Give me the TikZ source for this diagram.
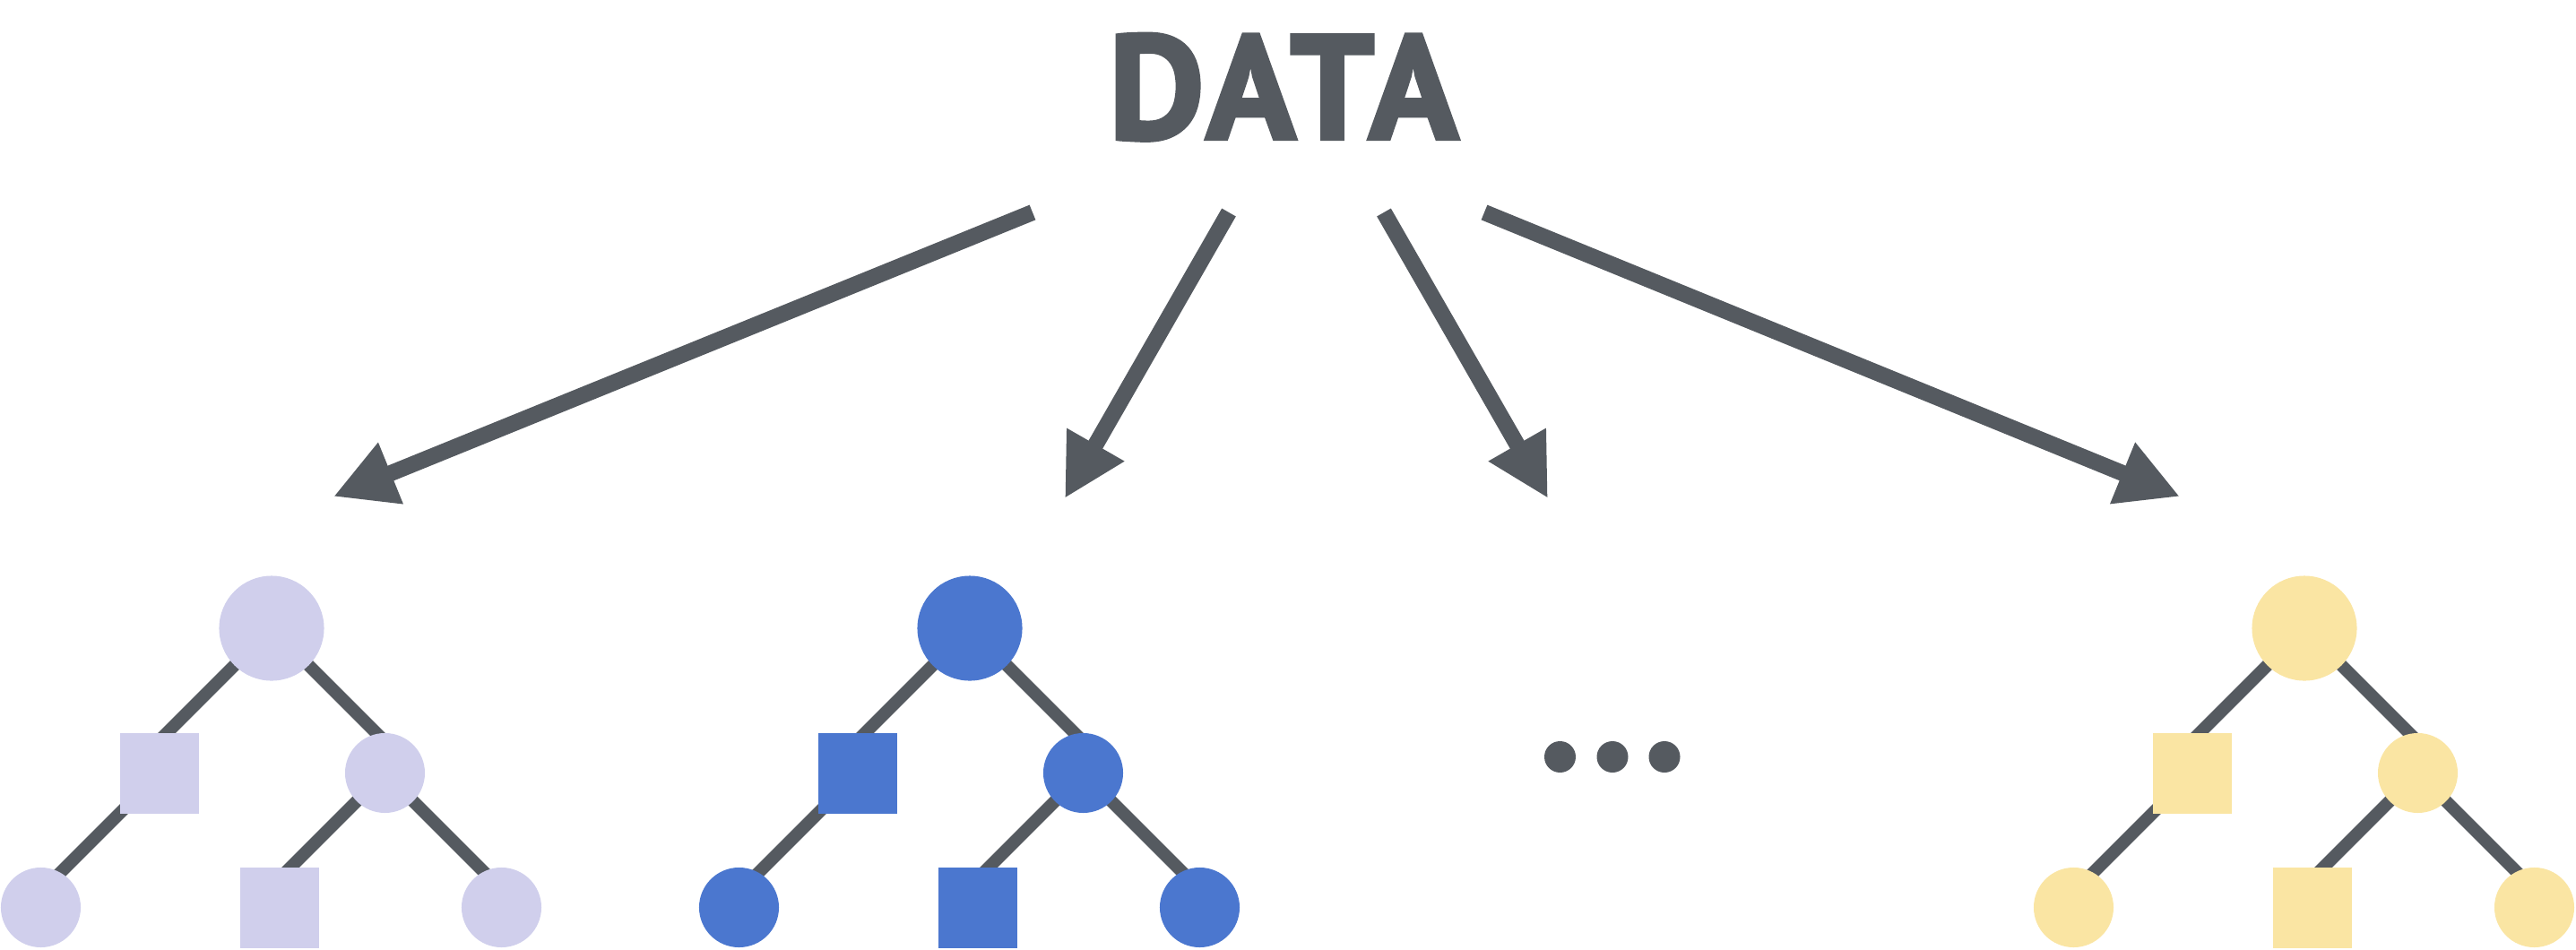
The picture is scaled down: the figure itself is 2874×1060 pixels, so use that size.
\documentclass[tikz,border=0pt]{standalone}
\usepackage{fontspec}
\newfontfamily\datafont{PT Sans}[BoldFeatures = {FakeBold = 2.5}, LetterSpace = 4]
\usetikzlibrary{arrows.meta,calc,backgrounds}

\definecolor{slate}{RGB}{85,90,96}
\definecolor{lilac}{RGB}{208,207,236}
\definecolor{azure}{RGB}{75,119,207}
\definecolor{butter}{RGB}{250,229,163}

\begin{document}
\begin{tikzpicture}[
  x = 0.01cm, y = -0.01cm,
  bignode/.style = {circle, inner sep = 0pt, minimum size = 1.17cm},
  smallnode/.style = {circle, inner sep = 0pt, minimum size = 0.89cm},
  boxnode/.style = {rectangle, inner sep = 0pt, minimum width = 0.88cm, minimum height = 0.9cm},
  treeline/.style = {draw = slate, line width = 0.14cm},
  bigarrow/.style = {draw = slate, line width = 0.18cm,
                     -{Triangle[length = 0.69cm, width = 0.69cm]}},
  moredot/.style = {circle, fill = slate, inner sep = 0pt, minimum size = 0.35cm}
  ]
  \useasboundingbox (0,0) rectangle (2874,1060);

  %title
  \node[font = \datafont\bfseries\fontsize{47}{47}\selectfont, text = slate,
        anchor = base, inner sep = 0pt] (data) at (1432,155) {DATA};

  %arrows
  \coordinate (src-a) at (1152,237);
  \coordinate (src-b) at (1371,237);
  \coordinate (src-c) at (1544,237);
  \coordinate (src-d) at (1656,237);
  \coordinate (tip-a) at (372,554);
  \coordinate (tip-b) at (1188,556);
  \coordinate (tip-c) at (1727,556);
  \coordinate (tip-d) at (2432,554);
  \foreach \s in {a,b,c,d}
    \draw[bigarrow] (src-\s) -- (tip-\s);

  %trees
  \foreach \t/\dx/\col in {a/0/lilac, b/779/azure, c/2268/butter} {
    \begin{scope}[shift = {(\dx,0)}, every node/.append style = {fill = \col}]
      \node[bignode]   (\t-root)  at (303,701) {};
      \node[boxnode]   (\t-sq)    at (178,863) {};
      \node[smallnode] (\t-mid)   at (429.5,862.5) {};
      \node[smallnode] (\t-leafl) at (45.5,1012.5) {};
      \node[boxnode]   (\t-sqb)   at (312,1013) {};
      \node[smallnode] (\t-leafr) at (559.5,1012.5) {};
      \begin{pgfonlayer}{background}
        \foreach \up/\dn in {root/sq, root/mid, sq/leafl, mid/sqb, mid/leafr}
          \draw[treeline] let \p1 = (\t-\up.center), \p2 = (\t-\dn.center) in
            (\p1) -- (\x2, {\y1 - abs(\x2 - \x1)});
      \end{pgfonlayer}
    \end{scope}
  }

  %dots
  \node[moredot] (dot1) at (1740.5,844.5) {};
  \node[moredot] (dot2) at (1799,844.5) {};
  \node[moredot] (dot3) at (1857,844.5) {};
\end{tikzpicture}
\end{document}
